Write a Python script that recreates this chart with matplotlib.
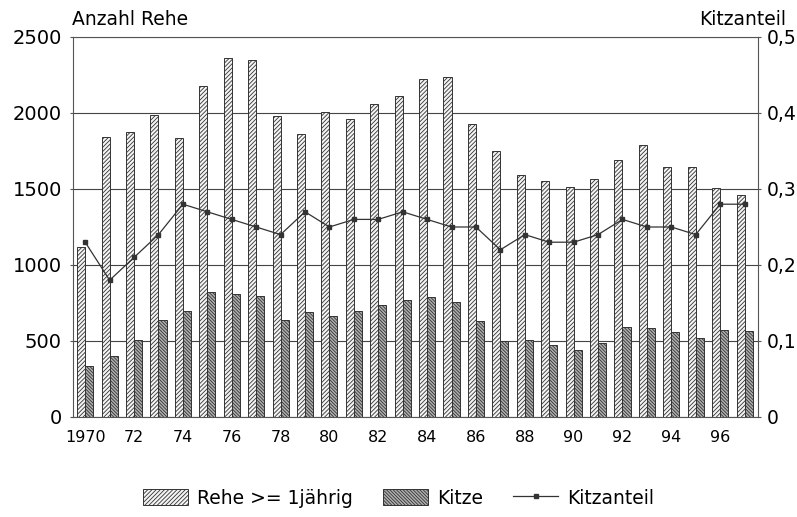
import matplotlib
matplotlib.use("Agg")
import matplotlib.pyplot as plt
from matplotlib.patches import Patch
from matplotlib.lines import Line2D
from matplotlib.ticker import FuncFormatter

years = list(range(1970, 1998))
rehe = [1120, 1844, 1873, 1987, 1833, 2178, 2360, 2349, 1978, 1864,
        2007, 1958, 2059, 2114, 2224, 2239, 1925, 1752, 1594, 1550,
        1511, 1566, 1689, 1787, 1643, 1643, 1504, 1463]
kitze = [337, 401, 507, 636, 697, 822, 807, 798, 636, 689,
         667, 697, 737, 770, 792, 754, 632, 498, 504, 471,
         439, 489, 590, 583, 559, 520, 572, 566]
anteil = [0.23, 0.18, 0.21, 0.24, 0.28, 0.27, 0.26, 0.25, 0.24, 0.27,
          0.25, 0.26, 0.26, 0.27, 0.26, 0.25, 0.25, 0.22, 0.24, 0.23,
          0.23, 0.24, 0.26, 0.25, 0.25, 0.24, 0.28, 0.28]
xtick_years = list(range(1970, 1998, 2))
xtick_labels = ["1970"] + [str(y)[2:] for y in xtick_years[1:]]
left_ticks = [0, 500, 1000, 1500, 2000, 2500]
right_ticks = [0, 0.1, 0.2, 0.3, 0.4, 0.5]

plt.rcParams['font.family'] = ['DejaVu Sans']
plt.rcParams['hatch.linewidth'] = 0.6

fig = plt.figure(figsize=(7.97, 5.17), dpi=100)
ax = fig.add_axes([73/797, 1-417/517, (758-73)/797, 380/517])
w = 0.33
ink = '#333333'
light_hatch = '////////'
dark_hatch = '\\\\\\\\\\\\\\\\\\\\'
ax.bar([y - w/2 for y in years], rehe, width=w, facecolor='#f4f4f4',
       edgecolor=ink, linewidth=0.7, hatch=light_hatch, zorder=3)
ax.bar([y + w/2 for y in years], kitze, width=w, facecolor='#b0b0b0',
       edgecolor=ink, linewidth=0.7, hatch=dark_hatch, zorder=3)
ax.set_xlim(1969.5, 1997.55)
ax.set_ylim(0, 2500)
ax.set_yticks(left_ticks)
ax.set_xticks(xtick_years)
ax.set_xticklabels(xtick_labels, fontsize=11.5)
ax.tick_params(axis='y', length=2, width=0.8, color='#555555', pad=6, labelsize=14)
ax.tick_params(axis='x', length=0, pad=9)
ax.grid(axis='y', color='#444444', linewidth=0.8, zorder=0)
ax.set_axisbelow(True)
for s in ax.spines.values():
    s.set_color('#555555')
    s.set_linewidth(0.8)

ax2 = ax.twinx()
ax2.plot(years, anteil, color=ink, linewidth=0.9, marker='s', markersize=3,
         zorder=5)
ax2.set_ylim(0, 0.5)
ax2.set_yticks(right_ticks)
ax2.yaxis.set_major_formatter(FuncFormatter(lambda v, p: ('%g' % v).replace('.', ',')))
ax2.tick_params(axis='y', length=2, width=0.8, color='#555555', pad=4, labelsize=13.5)
for s in ax2.spines.values():
    s.set_visible(False)

fig.text(72/797, 1-25/517, "Anzahl Rehe", fontsize=13.5, va='baseline', ha='left')
fig.text(786/797, 1-25/517, "Kitzanteil", fontsize=13.5, va='baseline', ha='right')

handles = [Patch(facecolor='#f4f4f4', edgecolor=ink, hatch=light_hatch, linewidth=0.7),
           Patch(facecolor='#b0b0b0', edgecolor=ink, hatch=dark_hatch, linewidth=0.7),
           Line2D([0], [0], color=ink, linewidth=0.9, marker='s', markersize=3)]
fig.legend(handles, ["Rehe >= 1jährig", "Kitze", "Kitzanteil"], ncol=3,
           loc='center', bbox_to_anchor=(0.5, 1-498/517), frameon=False,
           fontsize=13.5, handlelength=2.4, handleheight=0.9, columnspacing=1.6,
           handletextpad=0.5)

fig.savefig("out.png", dpi=100)
